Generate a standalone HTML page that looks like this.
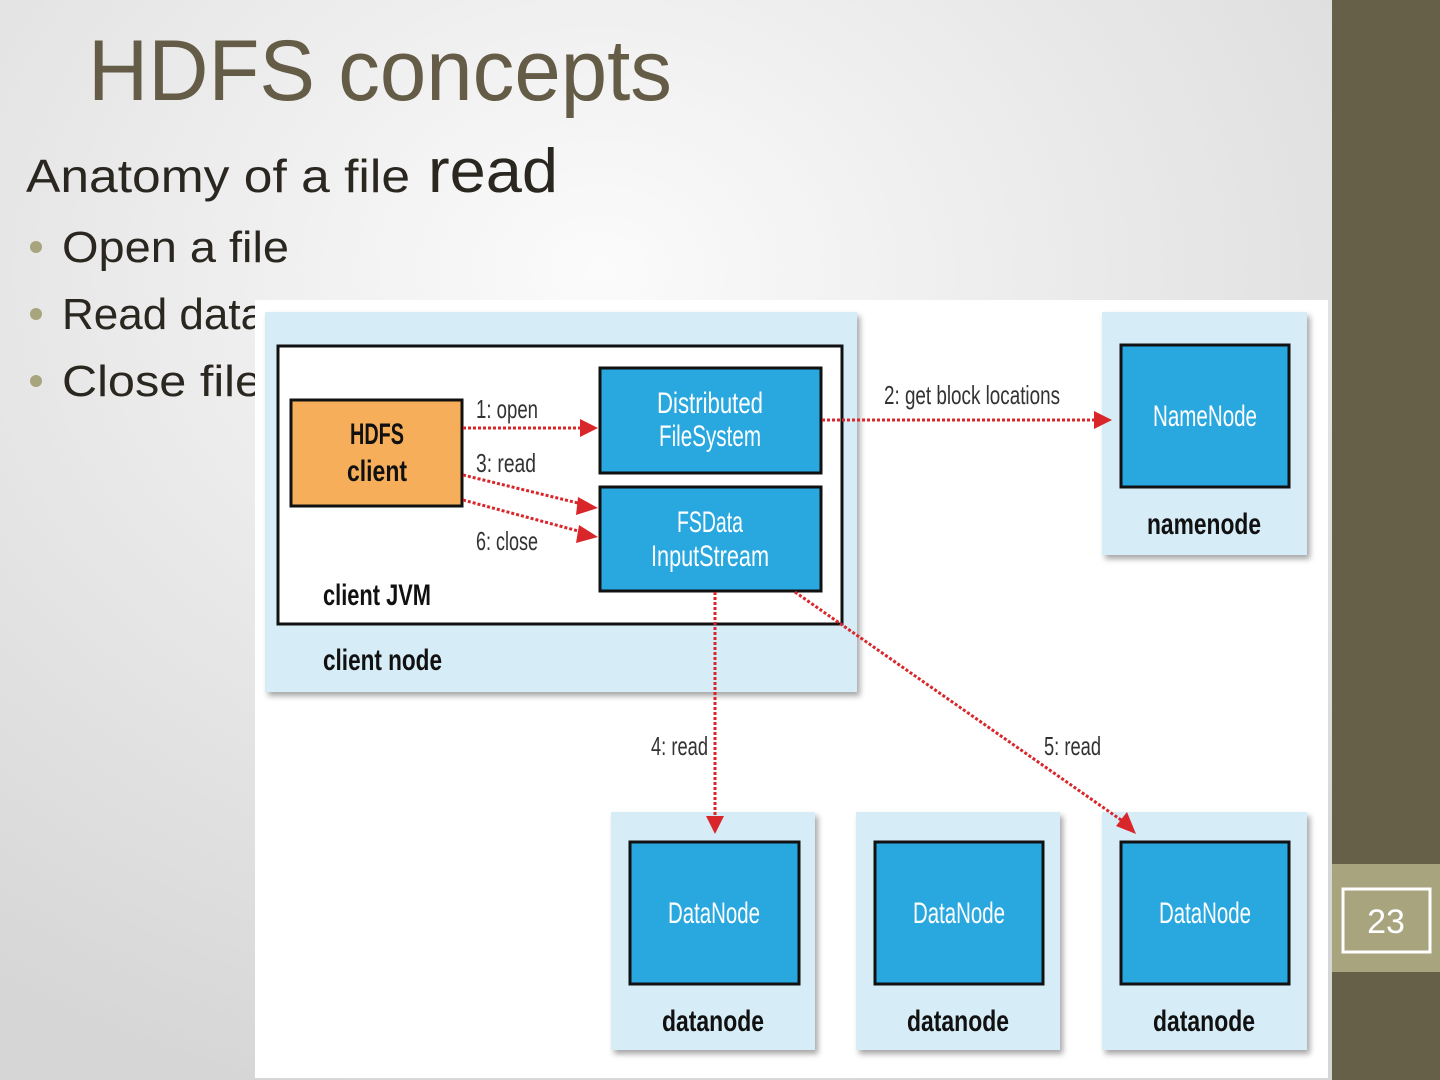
<!DOCTYPE html>
<html><head><meta charset="utf-8"><style>
html,body{margin:0;padding:0;width:1440px;height:1080px;overflow:hidden}
svg{display:block}
</style></head><body>
<svg width="1440" height="1080" viewBox="0 0 1440 1080" xmlns="http://www.w3.org/2000/svg" font-family="Liberation Sans, sans-serif">
<defs>
<radialGradient id="bg" cx="0.45" cy="0.25" r="0.8">
<stop offset="0" stop-color="#fbfbfb"/><stop offset="1" stop-color="#d6d6d6"/>
</radialGradient>
<filter id="sh" x="-10%" y="-10%" width="130%" height="130%"><feDropShadow dx="3" dy="4" stdDeviation="3" flood-color="#000" flood-opacity="0.35"/></filter>
</defs>
<rect width="1332" height="1080" fill="url(#bg)"/>
<rect x="1332" y="0" width="108" height="1080" fill="#666048"/>
<rect x="1332" y="864" width="108" height="108" fill="#a8a47e"/>
<rect x="1343" y="889" width="87" height="63" fill="none" stroke="#fff" stroke-width="3"/>
<text x="1386" y="933" font-size="34" fill="#fff" text-anchor="middle">23</text>

<text x="88" y="100" font-size="86" fill="#645c46" textLength="584" lengthAdjust="spacingAndGlyphs">HDFS concepts</text>
<text x="26" y="192" font-size="46" fill="#2a2620" textLength="384" lengthAdjust="spacingAndGlyphs">Anatomy of a file</text>
<text x="428" y="192" font-size="62" fill="#2a2620" textLength="130" lengthAdjust="spacingAndGlyphs">read</text>
<g fill="#a8a47e"><circle cx="36" cy="247" r="6"/><circle cx="36" cy="314" r="6"/><circle cx="36" cy="381" r="6"/></g>
<g font-size="44" fill="#2a2620">
<text x="62" y="262" textLength="227" lengthAdjust="spacingAndGlyphs">Open a file</text>
<text x="62" y="329">Read data</text>
<text x="62" y="396" textLength="200" lengthAdjust="spacingAndGlyphs">Close file</text>
</g>

<rect x="255" y="300" width="1073" height="778" fill="#fff"/>
<rect x="265" y="312" width="592" height="380" fill="#d6ecf7" filter="url(#sh)"/>
<rect x="278" y="346" width="564" height="278" fill="#fff" stroke="#111" stroke-width="3"/>
<rect x="291" y="400" width="171" height="106" fill="#f6ae5a" stroke="#111" stroke-width="3"/>
<rect x="600" y="368" width="221" height="105" fill="#29a8e0" stroke="#111" stroke-width="3"/>
<rect x="600" y="487" width="221" height="104" fill="#29a8e0" stroke="#111" stroke-width="3"/>
<rect x="1102" y="312" width="205" height="243" fill="#d6ecf7" filter="url(#sh)"/>
<rect x="1121" y="345" width="168" height="142" fill="#29a8e0" stroke="#111" stroke-width="3"/>
<g>
<rect x="611" y="812" width="204" height="238" fill="#d6ecf7" filter="url(#sh)"/>
<rect x="630" y="842" width="169" height="142" fill="#29a8e0" stroke="#111" stroke-width="3"/>
<rect x="856" y="812" width="204" height="238" fill="#d6ecf7" filter="url(#sh)"/>
<rect x="875" y="842" width="168" height="142" fill="#29a8e0" stroke="#111" stroke-width="3"/>
<rect x="1102" y="812" width="205" height="238" fill="#d6ecf7" filter="url(#sh)"/>
<rect x="1121" y="842" width="168" height="142" fill="#29a8e0" stroke="#111" stroke-width="3"/>
</g>
<g stroke="#d9262b" stroke-width="3" stroke-dasharray="3 2" fill="none">
<line x1="463" y1="428" x2="582" y2="428"/>
<line x1="463" y1="475" x2="582" y2="504"/>
<line x1="463" y1="500" x2="582" y2="532"/>
<line x1="822" y1="420" x2="1096" y2="420"/>
<line x1="715" y1="592" x2="715" y2="818"/>
<line x1="795" y1="592" x2="1124" y2="822"/>
</g>
<g fill="#d9262b">
<polygon points="598,428 580,419 580,437"/>
<polygon points="598,508 578,497 576,515"/>
<polygon points="598,537 579,525 576,543"/>
<polygon points="1112,420 1094,411 1094,429"/>
<polygon points="715,834 706,816 724,816"/>
<polygon points="1136,834 1116,826 1127,812"/>
</g>
<g font-size="26" fill="#333">
<text x="476" y="418" textLength="62" lengthAdjust="spacingAndGlyphs">1: open</text>
<text x="476" y="472" textLength="60" lengthAdjust="spacingAndGlyphs">3: read</text>
<text x="476" y="550" textLength="62" lengthAdjust="spacingAndGlyphs">6: close</text>
<text x="884" y="404" textLength="176" lengthAdjust="spacingAndGlyphs">2: get block locations</text>
<text x="651" y="755" textLength="57" lengthAdjust="spacingAndGlyphs">4: read</text>
<text x="1044" y="755" textLength="57" lengthAdjust="spacingAndGlyphs">5: read</text>
</g>
<g font-size="30" fill="#fff" text-anchor="middle">
<text x="710" y="413" textLength="106" lengthAdjust="spacingAndGlyphs">Distributed</text>
<text x="710" y="446" textLength="102" lengthAdjust="spacingAndGlyphs">FileSystem</text>
<text x="710" y="532" textLength="66" lengthAdjust="spacingAndGlyphs">FSData</text>
<text x="710" y="566" textLength="118" lengthAdjust="spacingAndGlyphs">InputStream</text>
<text x="1205" y="426" textLength="104" lengthAdjust="spacingAndGlyphs">NameNode</text>
<text x="714" y="923" textLength="92" lengthAdjust="spacingAndGlyphs">DataNode</text>
<text x="959" y="923" textLength="92" lengthAdjust="spacingAndGlyphs">DataNode</text>
<text x="1205" y="923" textLength="92" lengthAdjust="spacingAndGlyphs">DataNode</text>
</g>
<g font-size="30" font-weight="bold" fill="#111">
<text x="377" y="444" text-anchor="middle" textLength="54" lengthAdjust="spacingAndGlyphs">HDFS</text>
<text x="377" y="481" text-anchor="middle" textLength="60" lengthAdjust="spacingAndGlyphs">client</text>
<text x="323" y="605" textLength="108" lengthAdjust="spacingAndGlyphs">client JVM</text>
<text x="323" y="670" textLength="119" lengthAdjust="spacingAndGlyphs">client node</text>
<text x="1204" y="534" text-anchor="middle" textLength="114" lengthAdjust="spacingAndGlyphs">namenode</text>
<text x="713" y="1031" text-anchor="middle" textLength="102" lengthAdjust="spacingAndGlyphs">datanode</text>
<text x="958" y="1031" text-anchor="middle" textLength="102" lengthAdjust="spacingAndGlyphs">datanode</text>
<text x="1204" y="1031" text-anchor="middle" textLength="102" lengthAdjust="spacingAndGlyphs">datanode</text>
</g>
</svg>
</body></html>
